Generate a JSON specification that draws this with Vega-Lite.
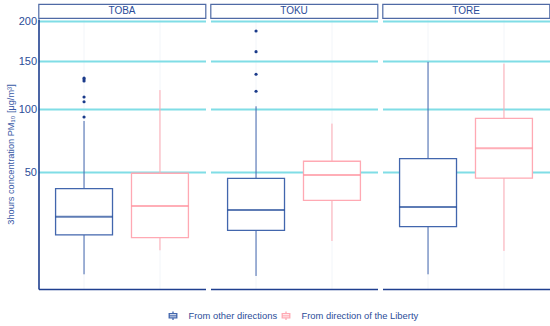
{
  "$schema": "https://vega.github.io/schema/vega-lite/v6.json",
  "background": "white",
  "padding": {"left": 5.5, "top": 3, "right": 2, "bottom": 2},
  "spacing": 3,
  "config": {
    "view": {"stroke": null},
    "legend": {
      "orient": "none", "legendX": 129, "legendY": 306, "direction": "horizontal",
      "symbolType": "M-0.8,-0.45H0.8V0.45H-0.8Z M-0.8,0H0.8 M0,-0.45V-0.9 M0,0.45V0.9",
      "symbolFillColor": "transparent", "symbolStrokeWidth": 1.3, "symbolSize": 90,
      "labelFont": "Liberation Sans", "labelFontSize": 9.4, "labelColor": "#2b4d99",
      "columnPadding": 2, "labelOffset": 10, "title": null
    },
    "axisX": {"title": null, "labels": false, "ticks": false, "domain": true, "domainColor": "#1f3f8f", "domainWidth": 1.6, "grid": true, "gridColor": "#f2f5f9", "gridWidth": 1, "bandPosition": 0.5},
    "axisY": {"grid": true, "gridColor": "#80dde6", "gridWidth": 1.8, "ticks": false, "domainColor": "#1f3f8f", "domainWidth": 1.6, "labelColor": "#2b4d99", "labelFontSize": 11, "labelFont": "Liberation Sans", "labelPadding": 2, "titleColor": "#3a5aa6", "titleFont": "Liberation Sans", "titleFontSize": 9.2, "titleFontWeight": "normal", "titlePadding": 3}
  },
  "datasets": {
    "panels": [{"panel": "TOBA"}, {"panel": "TOKU"}, {"panel": "TORE"}],
    "stats": [
      {"panel": "TOBA", "group": "From other directions", "lower": 5.2, "q1": 17.0, "median": 24.8, "q3": 39.6, "upper": 89.5},
      {"panel": "TOBA", "group": "From direction of the Liberty", "lower": 11.6, "q1": 16.0, "median": 30.0, "q3": 49.2, "upper": 119},
      {"panel": "TOKU", "group": "From other directions", "lower": 4.85, "q1": 18.85, "median": 28.0, "q3": 45.9, "upper": 103},
      {"panel": "TOKU", "group": "From direction of the Liberty", "lower": 14.75, "q1": 33.0, "median": 48.1, "q3": 57.4, "upper": 87.2},
      {"panel": "TORE", "group": "From other directions", "lower": 5.2, "q1": 20.35, "median": 29.5, "q3": 59.2, "upper": 149.5},
      {"panel": "TORE", "group": "From direction of the Liberty", "lower": 11.4, "q1": 46.1, "median": 66.9, "q3": 91.9, "upper": 147.5},
      {"panel": "TOBA", "group": "From other directions", "outlier": 93.1},
      {"panel": "TOBA", "group": "From other directions", "outlier": 107.4},
      {"panel": "TOBA", "group": "From other directions", "outlier": 112},
      {"panel": "TOBA", "group": "From other directions", "outlier": 128.5},
      {"panel": "TOBA", "group": "From other directions", "outlier": 130.6},
      {"panel": "TOBA", "group": "From other directions", "outlier": 131.6},
      {"panel": "TOKU", "group": "From other directions", "outlier": 117.8},
      {"panel": "TOKU", "group": "From other directions", "outlier": 135.7},
      {"panel": "TOKU", "group": "From other directions", "outlier": 161.5},
      {"panel": "TOKU", "group": "From other directions", "outlier": 187}
    ]
  },
  "hconcat": [
    {
      "bounds": "flush", "spacing": 1,
      "vconcat": [
        {
          "data": {"name": "panels"}, "transform": [{"filter": "datum.panel == 'TOBA'"}],
          "width": 167, "height": 14,
          "view": {"stroke": "#4f6aa5", "strokeWidth": 1.2, "fill": "white"},
          "mark": {"type": "text", "font": "Liberation Sans", "fontSize": 10, "color": "#2b4d99", "baseline": "middle", "align": "center"},
          "encoding": {"text": {"field": "panel", "type": "nominal"}}
        },
        {
          "data": {"name": "stats"}, "transform": [{"filter": "datum.panel == 'TOBA'"}],
          "width": 167, "height": 270,
          "encoding": {
            "x": {"field": "group", "type": "nominal", "sort": ["From other directions", "From direction of the Liberty"], "scale": {"type": "band", "paddingInner": 0, "paddingOuter": 0.1}}
          },
          "layer": [
            {
              "transform": [{"filter": "datum.q1 != null"}],
              "mark": {"type": "rule", "strokeWidth": 1},
              "encoding": {
                "y": {"field": "lower", "type": "quantitative", "scale": {"type": "sqrt", "domain": [2.536, 202.7], "nice": false, "zero": false}, "axis": {"title": "3hours concentration PM₁₀ [μg/m³]", "values": [50, 100, 150, 200]}},
                "y2": {"field": "q1"},
                "stroke": {"field": "group", "type": "nominal"}
              }
            },
            {
              "transform": [{"filter": "datum.q1 != null"}],
              "mark": {"type": "rule", "strokeWidth": 1},
              "encoding": {"y": {"field": "q3", "type": "quantitative"}, "y2": {"field": "upper"}, "stroke": {"field": "group", "type": "nominal"}}
            },
            {
              "transform": [{"filter": "datum.q1 != null"}],
              "mark": {"type": "bar", "fill": "white", "strokeWidth": 1.3, "width": {"band": 0.75}},
              "encoding": {
                "y": {"field": "q1", "type": "quantitative"}, "y2": {"field": "q3"},
                "stroke": {"field": "group", "type": "nominal", "scale": {"domain": ["From other directions", "From direction of the Liberty"], "range": ["#4266ad", "#ffa9b3"]}}
              }
            },
            {
              "transform": [{"filter": "datum.q1 != null"}],
              "mark": {"type": "tick", "size": 57, "thickness": 2},
              "encoding": {"y": {"field": "median", "type": "quantitative"}, "color": {"condition": {"test": "datum.group == 'From other directions'", "value": "#1a4496"}, "value": "#ff8b98"}}
            },
            {
              "transform": [{"filter": "datum.outlier != null"}],
              "mark": {"type": "circle", "size": 10, "color": "#1a3a8a", "opacity": 1},
              "encoding": {"y": {"field": "outlier", "type": "quantitative"}}
            }
          ]
        }
      ]
    },
    {
      "bounds": "flush", "spacing": 1,
      "vconcat": [
        {
          "data": {"name": "panels"}, "transform": [{"filter": "datum.panel == 'TOKU'"}],
          "width": 167, "height": 14,
          "view": {"stroke": "#4f6aa5", "strokeWidth": 1.2, "fill": "white"},
          "mark": {"type": "text", "font": "Liberation Sans", "fontSize": 10, "color": "#2b4d99", "baseline": "middle", "align": "center"},
          "encoding": {"text": {"field": "panel", "type": "nominal"}}
        },
        {
          "data": {"name": "stats"}, "transform": [{"filter": "datum.panel == 'TOKU'"}],
          "width": 167, "height": 270,
          "encoding": {
            "x": {"field": "group", "type": "nominal", "sort": ["From other directions", "From direction of the Liberty"], "scale": {"type": "band", "paddingInner": 0, "paddingOuter": 0.1}}
          },
          "layer": [
            {
              "transform": [{"filter": "datum.q1 != null"}],
              "mark": {"type": "rule", "strokeWidth": 1},
              "encoding": {
                "y": {"field": "lower", "type": "quantitative", "scale": {"type": "sqrt", "domain": [2.536, 202.7], "nice": false, "zero": false}, "axis": {"title": null, "labels": false, "domain": false, "values": [50, 100, 150, 200]}},
                "y2": {"field": "q1"},
                "stroke": {"field": "group", "type": "nominal"}
              }
            },
            {
              "transform": [{"filter": "datum.q1 != null"}],
              "mark": {"type": "rule", "strokeWidth": 1},
              "encoding": {"y": {"field": "q3", "type": "quantitative"}, "y2": {"field": "upper"}, "stroke": {"field": "group", "type": "nominal"}}
            },
            {
              "transform": [{"filter": "datum.q1 != null"}],
              "mark": {"type": "bar", "fill": "white", "strokeWidth": 1.3, "width": {"band": 0.75}},
              "encoding": {
                "y": {"field": "q1", "type": "quantitative"}, "y2": {"field": "q3"},
                "stroke": {"field": "group", "type": "nominal", "scale": {"domain": ["From other directions", "From direction of the Liberty"], "range": ["#4266ad", "#ffa9b3"]}}
              }
            },
            {
              "transform": [{"filter": "datum.q1 != null"}],
              "mark": {"type": "tick", "size": 57, "thickness": 2},
              "encoding": {"y": {"field": "median", "type": "quantitative"}, "color": {"condition": {"test": "datum.group == 'From other directions'", "value": "#1a4496"}, "value": "#ff8b98"}}
            },
            {
              "transform": [{"filter": "datum.outlier != null"}],
              "mark": {"type": "circle", "size": 10, "color": "#1a3a8a", "opacity": 1},
              "encoding": {"y": {"field": "outlier", "type": "quantitative"}}
            }
          ]
        }
      ]
    },
    {
      "bounds": "flush", "spacing": 1,
      "vconcat": [
        {
          "data": {"name": "panels"}, "transform": [{"filter": "datum.panel == 'TORE'"}],
          "width": 167, "height": 14,
          "view": {"stroke": "#4f6aa5", "strokeWidth": 1.2, "fill": "white"},
          "mark": {"type": "text", "font": "Liberation Sans", "fontSize": 10, "color": "#2b4d99", "baseline": "middle", "align": "center"},
          "encoding": {"text": {"field": "panel", "type": "nominal"}}
        },
        {
          "data": {"name": "stats"}, "transform": [{"filter": "datum.panel == 'TORE'"}],
          "width": 167, "height": 270,
          "encoding": {
            "x": {"field": "group", "type": "nominal", "sort": ["From other directions", "From direction of the Liberty"], "scale": {"type": "band", "paddingInner": 0, "paddingOuter": 0.1}}
          },
          "layer": [
            {
              "transform": [{"filter": "datum.q1 != null"}],
              "mark": {"type": "rule", "strokeWidth": 1},
              "encoding": {
                "y": {"field": "lower", "type": "quantitative", "scale": {"type": "sqrt", "domain": [2.536, 202.7], "nice": false, "zero": false}, "axis": {"title": null, "labels": false, "domain": false, "values": [50, 100, 150, 200]}},
                "y2": {"field": "q1"},
                "stroke": {"field": "group", "type": "nominal"}
              }
            },
            {
              "transform": [{"filter": "datum.q1 != null"}],
              "mark": {"type": "rule", "strokeWidth": 1},
              "encoding": {"y": {"field": "q3", "type": "quantitative"}, "y2": {"field": "upper"}, "stroke": {"field": "group", "type": "nominal"}}
            },
            {
              "transform": [{"filter": "datum.q1 != null"}],
              "mark": {"type": "bar", "fill": "white", "strokeWidth": 1.3, "width": {"band": 0.75}},
              "encoding": {
                "y": {"field": "q1", "type": "quantitative"}, "y2": {"field": "q3"},
                "stroke": {"field": "group", "type": "nominal", "scale": {"domain": ["From other directions", "From direction of the Liberty"], "range": ["#4266ad", "#ffa9b3"]}}
              }
            },
            {
              "transform": [{"filter": "datum.q1 != null"}],
              "mark": {"type": "tick", "size": 57, "thickness": 2},
              "encoding": {"y": {"field": "median", "type": "quantitative"}, "color": {"condition": {"test": "datum.group == 'From other directions'", "value": "#1a4496"}, "value": "#ff8b98"}}
            },
            {
              "transform": [{"filter": "datum.outlier != null"}],
              "mark": {"type": "circle", "size": 10, "color": "#1a3a8a", "opacity": 1},
              "encoding": {"y": {"field": "outlier", "type": "quantitative"}}
            }
          ]
        }
      ]
    }
  ]
}
